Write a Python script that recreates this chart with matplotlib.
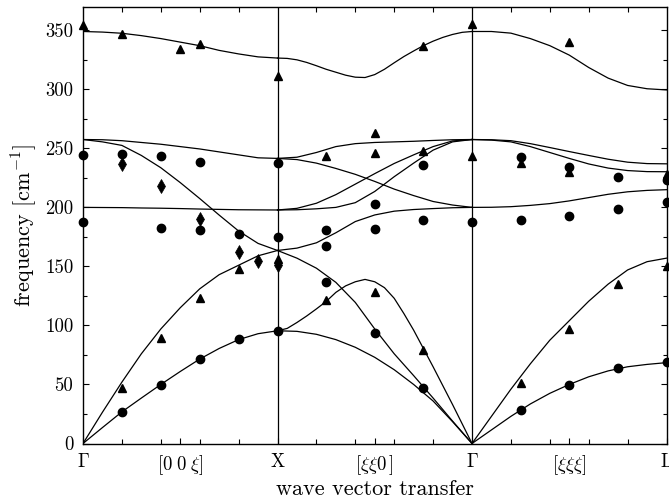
import matplotlib
matplotlib.use("Agg")
import matplotlib.pyplot as plt
import numpy as np
from matplotlib.ticker import FixedLocator, MultipleLocator

plt.rcParams["font.family"] = "cmr10"
plt.rcParams["mathtext.fontset"] = "cm"
plt.rcParams["axes.unicode_minus"] = False

# reduced wave vector along each path segment
Q = [0.0, 0.1, 0.2, 0.3, 0.4, 0.5, 0.6, 0.7, 0.8, 0.9, 1.0]
Q_FINE = [0.0, 0.05, 0.1, 0.15, 0.2, 0.25, 0.3, 0.35, 0.4, 0.45, 0.5,
          0.55, 0.6, 0.65, 0.7, 0.75, 0.8, 0.85, 0.9, 0.95, 1.0]

# calculated branches, Gamma -> X  [cm^-1]
GX_OPT_TOP = [349, 348.5, 347.5, 345.5, 343, 340, 337, 333, 330, 327.5, 326.5]
GX_OPT_UP = [257.5, 257.3, 256.5, 255, 253.5, 251.5, 249.5, 247, 244.5, 242, 241.5]
GX_OPT_DOWN = [257.5, 255.5, 252.5, 244, 233.6, 221, 207.5, 193.5, 180, 169.5, 163.5]
GX_OPT_FLAT = [200, 199.9, 199.8, 199.5, 199.3, 199, 198.6, 198.3, 198, 197.9, 197.8]
GX_LA = [0, 26.5, 52, 76, 97, 115, 131, 143, 151, 159, 163.5]
GX_TA = [0, 13.5, 26.8, 38.5, 50, 61, 71.5, 80.5, 88, 93, 95.5]

# calculated branches, X -> Gamma
XG_OPT_TOP = [326.5, 326.2, 325, 322.8, 320, 317, 314.5, 312, 310.3, 310, 312.5,
              317, 322.5, 327.8, 332.5, 337, 340.8, 344, 346.5, 348.3, 349]
XG_A = [241.5, 242.5, 246.5, 251.5, 254, 255, 255.5, 256, 256.7, 257.3, 257.5]
XG_B = [241.5, 240.5, 237.5, 233, 228, 222, 215.5, 210, 205, 202, 200]
XG_C = [197.8, 199.2, 203.5, 210.8, 219.7, 228.6, 237.2, 244.5, 251.5, 256.3, 257.5]
XG_D = [197.8, 198, 198.8, 200, 204, 213.5, 226, 237.5, 248.5, 255.5, 257.5]
XG_E = [163.5, 165.5, 170, 178.5, 188, 193.6, 196.8, 198.2, 199, 199.7, 200]
XG_F = [163.5, 157, 148.5, 136.5, 119.5, 97, 76, 57.5, 38.5, 19, 0]
XG_HUMP = [95.5, 97.5, 102.5, 108, 114, 120.3, 128, 133.5, 137, 139, 137,
           132, 123, 110, 96, 80.5, 65, 49, 33, 16.5, 0]
XG_LOW = [95.5, 95, 92.5, 88, 81.5, 73, 62.5, 50, 36, 18.5, 0]

# calculated branches, Gamma -> L
GL_OPT_TOP = [349, 349, 347.6, 343, 337, 329, 318.5, 309.5, 303.3, 300.5, 299.5]
GL_I = [257.5, 257.3, 256.5, 254, 250.7, 247.3, 244, 240.8, 238.3, 237.1, 236.9]
GL_J = [257.5, 257, 255.5, 251.5, 246.5, 241.5, 236.8, 233.3, 231.2, 230.3, 230.2]
GL_K = [200, 200.1, 200.6, 201.7, 203.2, 205.5, 208.3, 211.1, 213.2, 214.4, 215]
GL_LA = [0, 23, 46, 67.5, 87.5, 104, 120.5, 135, 147, 154, 157]
GL_TA = [0, 11.5, 23, 33.5, 42.5, 50, 56.5, 61.5, 65, 67, 68.5]

# measured frequencies (x: path coordinate, Gamma=0, X=1, Gamma=2, L=3)
CIRC_X = [0, 0, 0.2, 0.2, 0.4, 0.4, 0.4, 0.6, 0.6, 0.6, 0.8, 0.8, 1.0, 1.0, 1.0,
          1.25, 1.25, 1.25, 1.5, 1.5, 1.5, 1.75, 1.75, 1.75, 2.0,
          2.25, 2.25, 2.25, 2.5, 2.5, 2.5, 2.75, 2.75, 2.75, 3.0, 3.0, 3.0]
CIRC_Y = [244, 187.3, 245, 26.6, 243.5, 182.7, 49.3, 238.5, 180.8, 72, 177.6, 88.4,
          237.5, 174.6, 95.5,
          180.5, 167, 137, 203.2, 181.7, 93.8, 236.2, 189, 46.8, 187.3,
          242.3, 189, 28, 234.5, 193, 49.9, 225.6, 199, 64, 222.8, 204.7, 69]
TRI_X = [0, 0.2, 0.5, 0.6, 1.0, 0.2, 0.4, 0.6, 0.8, 1.0,
         1.25, 1.5, 1.5, 1.75, 1.75, 1.25, 1.5, 1.75, 2.0, 2.0,
         2.25, 2.5, 2.5, 3.0, 2.25, 2.5, 2.75, 3.0]
TRI_Y = [354.6, 347, 334, 338, 311.5, 46.7, 89, 123, 147.7, 156.5,
         243.5, 263.4, 245.8, 337, 247.7, 121.6, 128.7, 79, 355.4, 243.5,
         237.8, 340, 229.9, 228.7, 51.3, 96.7, 135, 150]
DIA_X = [0.2, 0.4, 0.6, 0.8, 0.9, 1.0]
DIA_Y = [236.4, 218, 190, 162.3, 155, 151.5]

SYM_POS = [0, 0.5, 1, 1.5, 2, 2.5, 3]
SYM_LABELS = [r"$\Gamma$", r"$[0\;0\;\xi]$", r"$\mathrm{X}$", r"$[\xi\xi0\,]$",
              r"$\Gamma$", r"$[\xi\xi\xi]$", r"$\mathrm{L}$"]

SEGMENTS = [
    (0.0, [(Q, GX_OPT_TOP), (Q, GX_OPT_UP), (Q, GX_OPT_DOWN), (Q, GX_OPT_FLAT),
           (Q, GX_LA), (Q, GX_TA)]),
    (1.0, [(Q_FINE, XG_OPT_TOP), (Q, XG_A), (Q, XG_B), (Q, XG_C), (Q, XG_D),
           (Q, XG_E), (Q, XG_F), (Q_FINE, XG_HUMP), (Q, XG_LOW)]),
    (2.0, [(Q, GL_OPT_TOP), (Q, GL_I), (Q, GL_J), (Q, GL_K), (Q, GL_LA), (Q, GL_TA)]),
]


def main() -> None:
    fig = plt.figure(figsize=(6.69, 5.01), dpi=100)
    ax = fig.add_axes([83 / 669, 57.5 / 501, 583.5 / 669, 436.8 / 501])

    for offset, branches in SEGMENTS:
        for q, freq in branches:
            ax.plot(offset + np.asarray(q), freq, color="black", lw=0.9, solid_joinstyle="round")

    for x in (1, 2):
        ax.axvline(x, color="black", lw=0.9)

    ax.plot(CIRC_X, CIRC_Y, "o", color="black", ms=6.0, clip_on=False, zorder=4)
    ax.plot(TRI_X, TRI_Y, "^", color="black", ms=6.2, clip_on=False, zorder=4)
    ax.plot(DIA_X, DIA_Y, "d", color="black", ms=7.0, mew=0.5, clip_on=False, zorder=4)

    ax.set_xlim(0, 3)
    ax.set_ylim(0, 370)

    ax.xaxis.set_major_locator(FixedLocator(SYM_POS))
    ax.set_xticklabels(SYM_LABELS)
    minor_x = [s + f for s in (0, 1, 2) for f in (0.2, 0.4, 0.6, 0.8)]
    ax.xaxis.set_minor_locator(FixedLocator(minor_x))
    ax.yaxis.set_major_locator(MultipleLocator(50))
    ax.yaxis.set_minor_locator(MultipleLocator(25))

    ax.tick_params(axis="x", which="major", direction="in", top=False, bottom=True,
                   length=4, width=0.8, labelsize=13.5, pad=7)
    ax.tick_params(axis="x", which="minor", direction="in", top=True, bottom=True,
                   length=3.5, width=0.8)
    ax.tick_params(axis="y", which="major", direction="in", left=True, right=True,
                   length=4, width=0.8, labelsize=13.5, pad=7)
    ax.tick_params(axis="y", which="minor", direction="in", left=True, right=True,
                   length=3, width=0.8)

    for spine in ax.spines.values():
        spine.set_linewidth(1.0)

    ax.set_xlabel("wave vector transfer", fontsize=16, labelpad=2)
    ax.set_ylabel(r"frequency [cm$^{-1}$]", fontsize=16, labelpad=4)

    fig.savefig("out.png", dpi=100)


if __name__ == "__main__":
    main()
